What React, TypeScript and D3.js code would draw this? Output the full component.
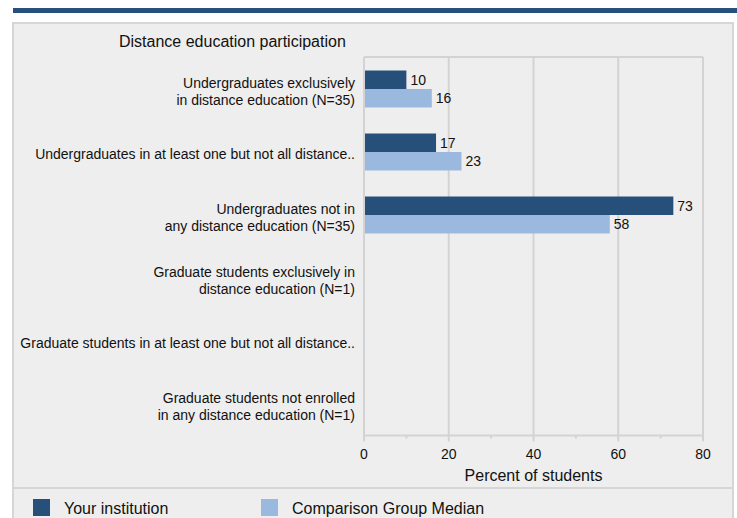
import { useEffect, useRef } from "react";
import * as d3 from "d3";

// Chart data
const categories = [
  ["Undergraduates exclusively", "in distance education (N=35)"],
  ["Undergraduates in at least one but not all distance.."],
  ["Undergraduates not in", "any distance education (N=35)"],
  ["Graduate students exclusively in", "distance education (N=1)"],
  ["Graduate students in at least one but not all distance.."],
  ["Graduate students not enrolled", "in any distance education (N=1)"],
];
const institutionValues = [10, 17, 73, null, null, null];
const comparisonValues = [16, 23, 58, null, null, null];
const seriesNames = ["Your institution", "Comparison Group Median"];
const xTicks = [0, 20, 40, 60, 80];
const xMinorTicks = [10, 30, 50, 70];

const DARK = "#264f7a";
const LIGHT = "#9bb9de";
const GRID = "#d3d3d3";
const FONT = "'Liberation Sans', Arial, sans-serif";

function App() {
  const ref = useRef<SVGSVGElement>(null);

  useEffect(() => {
    const svg = d3.select(ref.current);
    svg.selectAll("*").remove();

    const W = 737;
    const H = 518;
    svg.attr("width", W).attr("height", H).style("font-family", FONT);

    // Top banner and panel
    svg.append("rect").attr("x", 13).attr("y", 8).attr("width", W - 13).attr("height", 5).attr("fill", "#27507d");
    svg
      .append("rect")
      .attr("x", 13)
      .attr("y", 23)
      .attr("width", 720)
      .attr("height", 520)
      .attr("fill", "#eeeeee")
      .attr("stroke", "#d6d6d6")
      .attr("stroke-width", 2);

    svg
      .append("text")
      .attr("x", 119)
      .attr("y", 47)
      .attr("font-size", 16)
      .attr("fill", "#111")
      .text("Distance education participation");

    // Scales
    const x = d3.scaleLinear().domain([0, 80]).range([364, 703]);
    const y = d3
      .scaleBand<number>()
      .domain(d3.range(categories.length))
      .range([57.5, 435.5]);
    const bw = y.bandwidth();
    const sub = d3
      .scaleBand<number>()
      .domain([0, 1])
      .range([bw / 2 - 18.5, bw / 2 + 18.5]);

    const axisY = 435.5;

    // Grid
    const g = svg.append("g");
    g.selectAll("line.grid")
      .data(xTicks)
      .enter()
      .append("line")
      .attr("x1", (d) => x(d))
      .attr("x2", (d) => x(d))
      .attr("y1", 57)
      .attr("y2", axisY + 6)
      .attr("stroke", GRID)
      .attr("stroke-width", 2);
    g.append("line")
      .attr("x1", x(0))
      .attr("x2", x(80))
      .attr("y1", 57)
      .attr("y2", 57)
      .attr("stroke", GRID)
      .attr("stroke-width", 2);
    g.append("line")
      .attr("x1", x(0))
      .attr("x2", x(80))
      .attr("y1", axisY)
      .attr("y2", axisY)
      .attr("stroke", GRID)
      .attr("stroke-width", 2);
    g.selectAll("line.minor")
      .data(xMinorTicks)
      .enter()
      .append("line")
      .attr("x1", (d) => x(d))
      .attr("x2", (d) => x(d))
      .attr("y1", axisY)
      .attr("y2", axisY + 3)
      .attr("stroke", GRID)
      .attr("stroke-width", 2);

    // Tick labels
    g.selectAll("text.tick")
      .data(xTicks)
      .enter()
      .append("text")
      .attr("x", (d) => x(d))
      .attr("y", 459)
      .attr("text-anchor", "middle")
      .attr("font-size", 14)
      .attr("fill", "#111")
      .text((d) => d);

    svg
      .append("text")
      .attr("x", (x(0) + x(80)) / 2)
      .attr("y", 481)
      .attr("text-anchor", "middle")
      .attr("font-size", 16)
      .attr("fill", "#111")
      .text("Percent of students");

    // Category labels
    categories.forEach((lines, i) => {
      const cy = (y(i) as number) + bw / 2 + 2;
      const t = svg
        .append("text")
        .attr("text-anchor", "end")
        .attr("font-size", 14)
        .attr("fill", "#111");
      lines.forEach((line, j) => {
        t.append("tspan")
          .attr("x", 355)
          .attr("y", cy + (j - (lines.length - 1) / 2) * 17 + 5)
          .text(line);
      });
    });

    // Bars
    const series = [institutionValues, comparisonValues];
    const colors = [DARK, LIGHT];
    series.forEach((vals, s) => {
      const rows = vals.map((v, i) => ({ v, i })).filter((d) => d.v != null);
      svg
        .append("g")
        .selectAll("rect")
        .data(rows)
        .enter()
        .append("rect")
        .attr("x", x(0) + 1)
        .attr("y", (d) => (y(d.i) as number) + (sub(s) as number))
        .attr("width", (d) => x(d.v as number) - x(0) - 1)
        .attr("height", sub.bandwidth())
        .attr("fill", colors[s]);
      svg
        .append("g")
        .selectAll("text")
        .data(rows)
        .enter()
        .append("text")
        .attr("x", (d) => x(d.v as number) + 4)
        .attr("y", (d) => (y(d.i) as number) + (sub(s) as number) + sub.bandwidth() / 2 + 5)
        .attr("font-size", 14)
        .attr("fill", "#111")
        .text((d) => d.v as number);
    });

    // Legend
    svg.append("line").attr("x1", 13).attr("x2", 733).attr("y1", 488).attr("y2", 488).attr("stroke", "#d6d6d6").attr("stroke-width", 2);
    const legendX = [33, 261];
    seriesNames.forEach((name, s) => {
      svg.append("rect").attr("x", legendX[s]).attr("y", 499).attr("width", 17).attr("height", 17).attr("fill", colors[s]);
      svg
        .append("text")
        .attr("x", legendX[s] + 31)
        .attr("y", 514)
        .attr("font-size", 16)
        .attr("fill", "#111")
        .text(name);
    });
  }, []);

  return <svg ref={ref} style={{ position: "absolute", left: 0, top: 0 }} />;
}

export default App;
